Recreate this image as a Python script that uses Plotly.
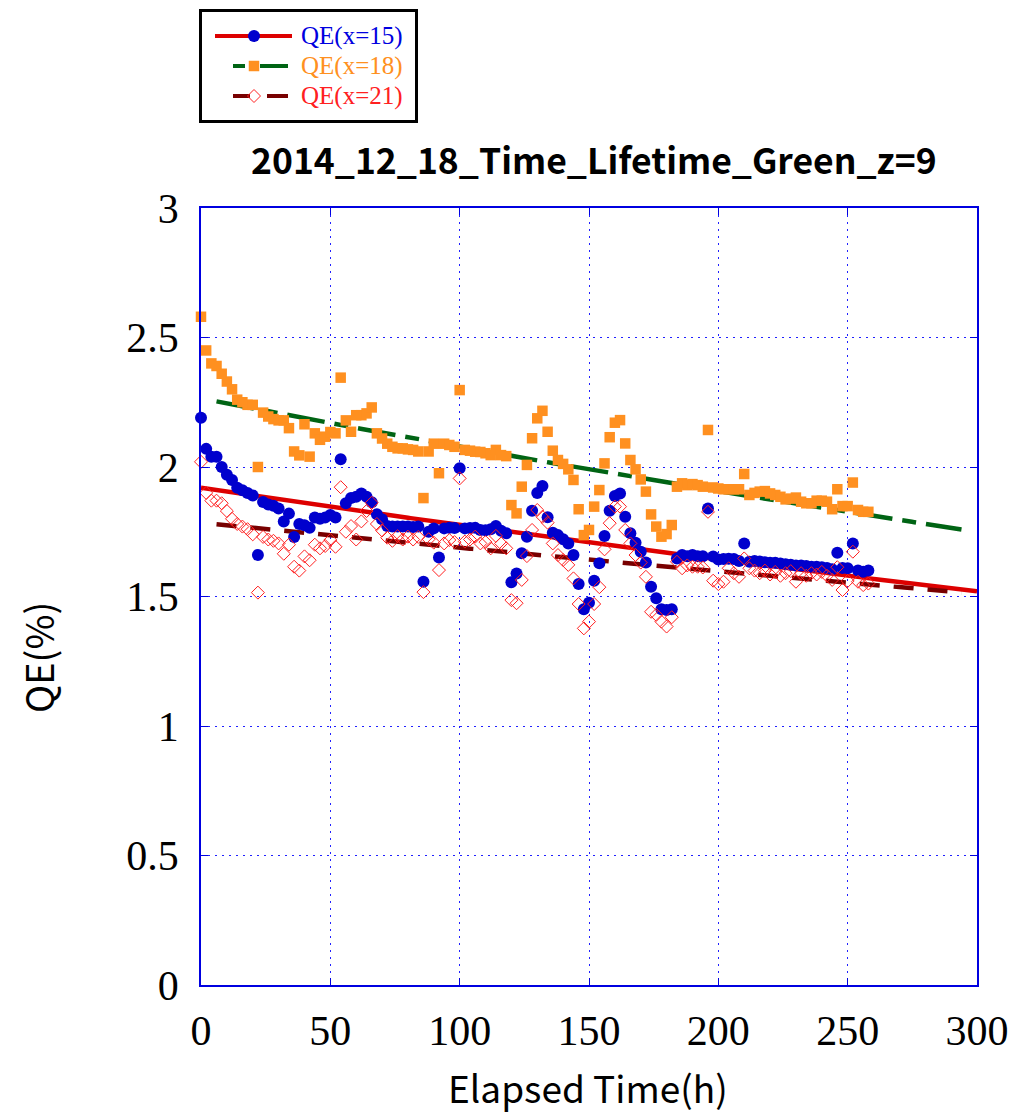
import numpy as np
import plotly.graph_objects as go

# ---------------- data ----------------
hours = [
    0, 2, 4, 6, 8, 10, 12, 14, 16, 18,
    20, 22, 24, 26, 28, 30, 32, 34, 36, 38,
    40, 42, 44, 46, 48, 50, 52, 54, 56, 58,
    60, 62, 64, 66, 68, 70, 72, 74, 76, 78,
    80, 82, 84, 86, 88, 90, 92, 94, 96, 98,
    100, 102, 104, 106, 108, 110, 112, 114, 116, 118,
    120, 122, 124, 126, 128, 130, 132, 134, 136, 138,
    140, 142, 144, 146, 148, 150, 152, 154, 156, 158,
    160, 162, 164, 166, 168, 170, 172, 174, 176, 178,
    180, 182, 184, 186, 188, 190, 192, 194, 196, 198,
    200, 202, 204, 206, 208, 210, 212, 214, 216, 218,
    220, 222, 224, 226, 228, 230, 232, 234, 236, 238,
    240, 242, 244, 246, 248, 250, 252, 254, 256, 258,
]

qe_x15 = [
    2.19, 2.07, 2.04, 2.04, 2.00, 1.97, 1.95, 1.92, 1.91, 1.90,
    1.89, 1.66, 1.865, 1.855, 1.85, 1.84, 1.79, 1.82, 1.73, 1.78,
    1.775, 1.765, 1.805, 1.80, 1.805, 1.815, 1.805, 2.03, 1.86, 1.88,
    1.885, 1.898, 1.885, 1.864, 1.818, 1.798, 1.772, 1.77, 1.77, 1.77,
    1.77, 1.768, 1.77, 1.557, 1.75, 1.763, 1.651, 1.763, 1.765, 1.764,
    1.995, 1.763, 1.764, 1.765, 1.757, 1.756, 1.76, 1.772, 1.754, 1.744,
    1.555, 1.589, 1.667, 1.731, 1.831, 1.90, 1.927, 1.806, 1.746, 1.737,
    1.721, 1.705, 1.66, 1.548, 1.451, 1.476, 1.561, 1.628, 1.734, 1.831,
    1.888, 1.898, 1.808, 1.744, 1.708, 1.673, 1.631, 1.538, 1.493, 1.451,
    1.448, 1.451, 1.647, 1.66, 1.655, 1.66, 1.655, 1.655, 1.84, 1.654,
    1.643, 1.645, 1.646, 1.645, 1.637, 1.705, 1.634, 1.637, 1.635, 1.632,
    1.63, 1.63, 1.627, 1.625, 1.623, 1.62, 1.62, 1.618, 1.615, 1.615,
    1.613, 1.61, 1.605, 1.669, 1.61, 1.609, 1.705, 1.60, 1.596, 1.60,
]

qe_x18 = [
    2.58, 2.45, 2.40, 2.39, 2.36, 2.33, 2.30, 2.26, 2.25, 2.24,
    2.24, 2.00, 2.21, 2.195, 2.185, 2.18, 2.18, 2.15, 2.06, 2.045,
    2.165, 2.04, 2.13, 2.105, 2.117, 2.135, 2.13, 2.345, 2.18, 2.136,
    2.20, 2.20, 2.207, 2.23, 2.13, 2.11, 2.09, 2.078, 2.072, 2.072,
    2.068, 2.066, 2.06, 1.88, 2.06, 2.09, 1.976, 2.09, 2.085, 2.078,
    2.297, 2.066, 2.063, 2.059, 2.058, 2.053, 2.046, 2.066, 2.046, 2.042,
    1.853, 1.821, 1.924, 2.008, 2.111, 2.188, 2.217, 2.136, 2.063, 2.027,
    2.012, 1.991, 1.95, 1.837, 1.737, 1.757, 1.847, 1.911, 2.014, 2.115,
    2.171, 2.181, 2.091, 2.027, 1.991, 1.952, 1.905, 1.817, 1.77, 1.731,
    1.741, 1.776, 1.924, 1.937, 1.93, 1.934, 1.93, 1.924, 2.143, 1.921,
    1.917, 1.914, 1.914, 1.914, 1.914, 1.973, 1.892, 1.90, 1.905, 1.907,
    1.898, 1.892, 1.885, 1.875, 1.878, 1.882, 1.866, 1.86, 1.86, 1.87,
    1.87, 1.866, 1.837, 1.914, 1.849, 1.849, 1.94, 1.834, 1.827, 1.827,
]

qe_x21 = [
    2.02, 1.90, 1.87, 1.87, 1.86, 1.83, 1.80, 1.78, 1.77, 1.76,
    1.74, 1.515, 1.73, 1.72, 1.715, 1.705, 1.665, 1.70, 1.615, 1.60,
    1.655, 1.64, 1.70, 1.686, 1.695, 1.718, 1.692, 1.922, 1.75, 1.772,
    1.72, 1.79, 1.83, 1.862, 1.78, 1.755, 1.727, 1.715, 1.733, 1.72,
    1.731, 1.72, 1.73, 1.517, 1.721, 1.708, 1.602, 1.705, 1.718, 1.71,
    1.956, 1.712, 1.72, 1.731, 1.705, 1.71, 1.686, 1.734, 1.705, 1.686,
    1.486, 1.474, 1.564, 1.656, 1.757, 1.834, 1.808, 1.785, 1.705, 1.66,
    1.641, 1.622, 1.57, 1.471, 1.377, 1.403, 1.471, 1.536, 1.682, 1.783,
    1.847, 1.847, 1.757, 1.705, 1.66, 1.631, 1.576, 1.441, 1.429, 1.403,
    1.384, 1.42, 1.634, 1.609, 1.62, 1.615, 1.615, 1.612, 1.827, 1.561,
    1.548, 1.557, 1.609, 1.59, 1.576, 1.647, 1.609, 1.60, 1.59, 1.60,
    1.585, 1.595, 1.58, 1.59, 1.598, 1.557, 1.59, 1.58, 1.59, 1.585,
    1.595, 1.58, 1.564, 1.613, 1.525, 1.56, 1.673, 1.557, 1.544, 1.55,
]

series_names = ["QE(x=15)", "QE(x=18)", "QE(x=21)"]

# exponential decay fits  QE(t) = amp * exp(-rate * t)
fit_amp = [1.92, 2.265, 1.785]
fit_rate = [0.000779, 0.00086, 0.000556]
fit_span = [(0, 300), (6, 294), (6, 294)]

x_ticks = [0, 50, 100, 150, 200, 250, 300]
y_ticks = [0, 0.5, 1, 1.5, 2, 2.5, 3]

# ---------------- styling ----------------
W, H = 1011, 1115
PLOT_L, PLOT_R, PLOT_T, PLOT_B = 201, 977, 208, 985

point_colors = ["#0000CD", "#FF9020", "#FF2020"]
fit_colors = ["#DD0000", "#006414", "#780000"]
fit_dash = ["solid", "38px,10px,14px,10px", "20px,14px"]
symbols = ["circle", "square", "diamond-open"]
sizes = [12, 10.5, 10]

SANS = "Noto Sans CJK JP, Liberation Sans, Arial, sans-serif"
SERIF = "Liberation Serif, Times New Roman, serif"

fig = go.Figure()

# fitted curves underneath the measured points
for amp, rate, (t0, t1), col, dash in zip(fit_amp, fit_rate, fit_span, fit_colors, fit_dash):
    tt = np.linspace(t0, t1, 301)
    fig.add_trace(go.Scatter(
        x=tt, y=amp * np.exp(-rate * tt), mode="lines",
        line=dict(color=col, width=4.5, dash=dash),
        showlegend=False, hoverinfo="skip",
    ))

for vals, col, sym, sz, name in zip([qe_x15, qe_x18, qe_x21], point_colors, symbols, sizes, series_names):
    marker = dict(symbol=sym, size=sz, color=col)
    if sym.endswith("open"):
        marker["line"] = dict(color=col, width=1)
    else:
        marker["line"] = dict(width=0)
    fig.add_trace(go.Scatter(
        x=hours, y=vals, mode="markers", marker=marker,
        name=name, showlegend=False, cliponaxis=False,
    ))

# ---------------- key box (drawn on its own pixel-unit axes) ----------------
KEY_L, KEY_R, KEY_T, KEY_B = 199, 418, 9, 123
row_y = [36, 66, 96]
key_segments = [
    [(215, 292)],
    [(233, 245), (260, 288)],
    [(233, 250), (267, 288)],
]
for i in range(3):
    xs, ys = [], []
    for a, b in key_segments[i]:
        xs += [a, b, None]
        ys += [row_y[i], row_y[i], None]
    fig.add_trace(go.Scatter(
        x=xs, y=ys, mode="lines", xaxis="x2", yaxis="y2",
        line=dict(color=fit_colors[i], width=4),
        showlegend=False, hoverinfo="skip",
    ))
    marker = dict(symbol=symbols[i], size=sizes[i], color=point_colors[i])
    marker["line"] = dict(color=point_colors[i], width=1) if symbols[i].endswith("open") else dict(width=0)
    fig.add_trace(go.Scatter(
        x=[254], y=[row_y[i]], mode="markers", xaxis="x2", yaxis="y2",
        marker=marker, showlegend=False, hoverinfo="skip", cliponaxis=False,
    ))
    fig.add_annotation(
        x=299, y=row_y[i], xref="x2", yref="y2", text=series_names[i],
        showarrow=False, xanchor="left", yanchor="middle",
        font=dict(family=SERIF, size=25, color=point_colors[i] if i != 0 else "#0000E0"),
    )

fig.add_shape(type="rect", xref="x2", yref="y2", x0=KEY_L + 1.5, x1=KEY_R - 1.5,
              y0=KEY_T + 1.5, y1=KEY_B - 1.5, line=dict(color="black", width=3))

# ---------------- axes ----------------
axis_blue = "#0000E0"
grid_blue = "#2020FF"
common = dict(
    showline=True, linecolor=axis_blue, linewidth=1.5, mirror="allticks",
    ticks="inside", ticklen=7, tickcolor=axis_blue, tickwidth=1,
    showgrid=True, gridcolor=grid_blue, gridwidth=1, griddash="2px,5px",
    zeroline=False, automargin=False,
    tickfont=dict(family=SERIF, size=42, color="black"),
)
fig.update_layout(
    width=W, height=H, autosize=False,
    margin=dict(l=0, r=0, t=0, b=0, pad=0),
    paper_bgcolor="white", plot_bgcolor="white",
    xaxis=dict(domain=[PLOT_L / W, PLOT_R / W], range=[0, 300],
               tickvals=x_ticks, ticklabelstandoff=8, **common),
    yaxis=dict(domain=[1 - PLOT_B / H, 1 - PLOT_T / H], range=[0, 3],
               tickvals=y_ticks, ticklabelstandoff=12, **common),
    xaxis2=dict(domain=[KEY_L / W, KEY_R / W], range=[KEY_L, KEY_R], visible=False,
                anchor="y2", fixedrange=True, automargin=False),
    yaxis2=dict(domain=[1 - KEY_B / H, 1 - KEY_T / H], range=[KEY_B, KEY_T], visible=False,
                anchor="x2", fixedrange=True, automargin=False),
    showlegend=False,
)

# title and axis labels
fig.add_annotation(x=594 / W, y=1 - 158 / H, xref="paper", yref="paper",
                   text="<b>2014_12_18_Time_Lifetime_Green_z=9</b>", showarrow=False,
                   xanchor="center", yanchor="middle",
                   font=dict(family=SANS, size=35.5, color="black"))
fig.add_annotation(x=588 / W, y=0, xref="paper", yref="paper",
                   text="Elapsed Time(h)", showarrow=False,
                   xanchor="center", yanchor="bottom", borderpad=0,
                   font=dict(family=SANS, size=37, color="black"))
fig.add_annotation(x=37 / W, y=1 - 658 / H, xref="paper", yref="paper",
                   text="QE(%)", showarrow=False, textangle=-90,
                   xanchor="center", yanchor="middle",
                   font=dict(family=SANS, size=38, color="black"))

fig.write_html("out.html")
